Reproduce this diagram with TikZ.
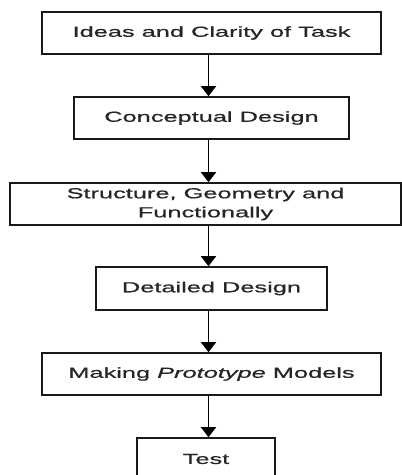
\documentclass[tikz,border=0pt]{standalone}
\usepackage{fontspec}
\setmainfont{Liberation Sans}[FakeStretch=1.75,FakeBold=0.8]
\usetikzlibrary{arrows.meta}
\begin{document}
\begin{tikzpicture}[x=1pt,y=-1pt,
  stepbox/.style={draw=black!90,line width=1.6pt,minimum height=42pt,inner sep=0pt,
    align=center,font=\fontsize{14.5pt}{16.5pt}\selectfont,text=black!85},
  flow/.style={draw=black,line width=1.6pt,-{Triangle[width=15pt,length=10pt]}}]
\useasboundingbox (0,0) rectangle (402,475);
\coordinate (ax) at (208.5,0);
\node[stepbox,minimum width=339pt] (b1) at (211.5,33) {Ideas and Clarity of Task};
\node[stepbox,minimum width=275pt] (b2) at (211.5,118) {Conceptual Design};
\node[stepbox,minimum width=391pt] (b3) at (205.5,204) {Structure, Geometry and\\[2.5pt]Functionally};
\node[stepbox,minimum width=231pt,minimum height=43pt] (b4) at (211.5,288.5) {Detailed Design};
\node[stepbox,minimum width=339pt] (b5) at (211.5,374) {Making \textit{Prototype} Models};
\node[stepbox,minimum width=138pt] (b6) at (206,459) {Test};
\draw[flow] (b1.south -| ax) -- (b2.north -| ax);
\draw[flow] (b2.south -| ax) -- (b3.north -| ax);
\draw[flow] (b3.south -| ax) -- (b4.north -| ax);
\draw[flow] (b4.south -| ax) -- (b5.north -| ax);
\draw[flow] (b5.south -| ax) -- (b6.north -| ax);
\end{tikzpicture}
\end{document}
